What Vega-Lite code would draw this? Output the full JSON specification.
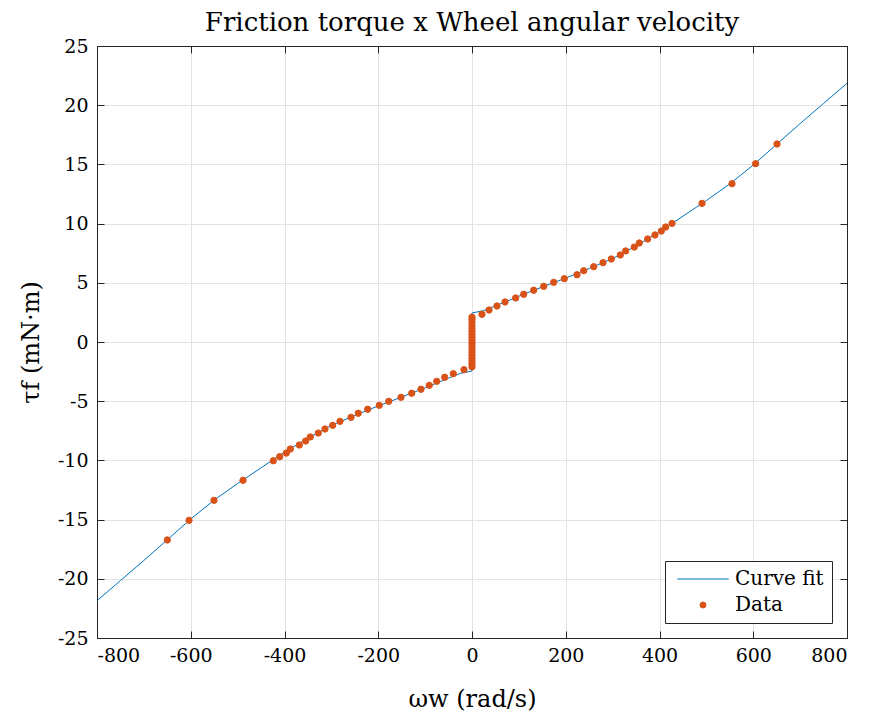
{
  "$schema": "https://vega.github.io/schema/vega-lite/v6.json",
  "width": 750,
  "height": 592,
  "autosize": "none",
  "padding": {"left": 97, "top": 46, "right": 24, "bottom": 77},
  "background": "white",
  "title": {
    "text": "Friction torque x Wheel angular velocity",
    "font": "DejaVu Serif",
    "fontSize": 26,
    "fontWeight": "normal",
    "color": "#000000",
    "anchor": "middle",
    "offset": 1
  },
  "config": {
    "view": {"stroke": null},
    "axis": {
      "labelFont": "DejaVu Serif",
      "labelFontSize": 19,
      "labelColor": "#000000",
      "titleFont": "DejaVu Serif",
      "titleFontSize": 24,
      "titleFontWeight": "normal",
      "titleColor": "#000000",
      "domainColor": "#262626",
      "tickColor": "#262626",
      "gridColor": "#e3e3e3",
      "gridWidth": 1,
      "domainWidth": 1,
      "tickSize": -7
    },
    "legend": {
      "labelFont": "DejaVu Serif",
      "labelFontSize": 20
    }
  },
  "datasets": {
    "fit": [
      {"w": -800, "tau": -21.85, "series": "Curve fit", "i": 0},
      {"w": -750, "tau": -20.15, "series": "Curve fit", "i": 1},
      {"w": -700, "tau": -18.45, "series": "Curve fit", "i": 2},
      {"w": -650, "tau": -16.7, "series": "Curve fit", "i": 3},
      {"w": -600, "tau": -14.95, "series": "Curve fit", "i": 4},
      {"w": -550, "tau": -13.35, "series": "Curve fit", "i": 5},
      {"w": -500, "tau": -11.95, "series": "Curve fit", "i": 6},
      {"w": -450, "tau": -10.63, "series": "Curve fit", "i": 7},
      {"w": -400, "tau": -9.3, "series": "Curve fit", "i": 8},
      {"w": -350, "tau": -8.12, "series": "Curve fit", "i": 9},
      {"w": -300, "tau": -7.05, "series": "Curve fit", "i": 10},
      {"w": -250, "tau": -6.2, "series": "Curve fit", "i": 11},
      {"w": -200, "tau": -5.4, "series": "Curve fit", "i": 12},
      {"w": -150, "tau": -4.65, "series": "Curve fit", "i": 13},
      {"w": -100, "tau": -3.87, "series": "Curve fit", "i": 14},
      {"w": -50, "tau": -3.05, "series": "Curve fit", "i": 15},
      {"w": -25, "tau": -2.65, "series": "Curve fit", "i": 16},
      {"w": 0, "tau": -2.45, "series": "Curve fit", "i": 17},
      {"w": 0, "tau": 2.45, "series": "Curve fit", "i": 18},
      {"w": 25, "tau": 2.65, "series": "Curve fit", "i": 19},
      {"w": 50, "tau": 3.05, "series": "Curve fit", "i": 20},
      {"w": 100, "tau": 3.87, "series": "Curve fit", "i": 21},
      {"w": 150, "tau": 4.65, "series": "Curve fit", "i": 22},
      {"w": 200, "tau": 5.4, "series": "Curve fit", "i": 23},
      {"w": 250, "tau": 6.2, "series": "Curve fit", "i": 24},
      {"w": 300, "tau": 7.05, "series": "Curve fit", "i": 25},
      {"w": 350, "tau": 8.12, "series": "Curve fit", "i": 26},
      {"w": 400, "tau": 9.3, "series": "Curve fit", "i": 27},
      {"w": 450, "tau": 10.63, "series": "Curve fit", "i": 28},
      {"w": 500, "tau": 11.95, "series": "Curve fit", "i": 29},
      {"w": 550, "tau": 13.35, "series": "Curve fit", "i": 30},
      {"w": 600, "tau": 14.95, "series": "Curve fit", "i": 31},
      {"w": 650, "tau": 16.7, "series": "Curve fit", "i": 32},
      {"w": 700, "tau": 18.45, "series": "Curve fit", "i": 33},
      {"w": 750, "tau": 20.15, "series": "Curve fit", "i": 34},
      {"w": 800, "tau": 21.85, "series": "Curve fit", "i": 35}
    ],
    "data": [
      {"w": -650, "tau": -16.72, "series": "Data"},
      {"w": -603.7, "tau": -15.06, "series": "Data"},
      {"w": -550.4, "tau": -13.37, "series": "Data"},
      {"w": -488.5, "tau": -11.68, "series": "Data"},
      {"w": -423.9, "tau": -10.03, "series": "Data"},
      {"w": -410.2, "tau": -9.69, "series": "Data"},
      {"w": -396.2, "tau": -9.38, "series": "Data"},
      {"w": -387.6, "tau": -9.04, "series": "Data"},
      {"w": -368.4, "tau": -8.7, "series": "Data"},
      {"w": -354.8, "tau": -8.36, "series": "Data"},
      {"w": -345, "tau": -8.02, "series": "Data"},
      {"w": -327.9, "tau": -7.69, "series": "Data"},
      {"w": -313.6, "tau": -7.35, "series": "Data"},
      {"w": -297.2, "tau": -7.04, "series": "Data"},
      {"w": -281.6, "tau": -6.7, "series": "Data"},
      {"w": -258.1, "tau": -6.36, "series": "Data"},
      {"w": -242.6, "tau": -6.02, "series": "Data"},
      {"w": -222.5, "tau": -5.68, "series": "Data"},
      {"w": -197.8, "tau": -5.35, "series": "Data"},
      {"w": -177.7, "tau": -5.01, "series": "Data"},
      {"w": -151.5, "tau": -4.67, "series": "Data"},
      {"w": -128.6, "tau": -4.33, "series": "Data"},
      {"w": -108.8, "tau": -3.99, "series": "Data"},
      {"w": -91.1, "tau": -3.66, "series": "Data"},
      {"w": -75.3, "tau": -3.32, "series": "Data"},
      {"w": -58.2, "tau": -2.98, "series": "Data"},
      {"w": -39.9, "tau": -2.68, "series": "Data"},
      {"w": -17.1, "tau": -2.34, "series": "Data"},
      {"w": 0, "tau": -2.1, "series": "Data"},
      {"w": 0, "tau": -1.85, "series": "Data"},
      {"w": 0, "tau": -1.6, "series": "Data"},
      {"w": 0, "tau": -1.35, "series": "Data"},
      {"w": 0, "tau": -1.1, "series": "Data"},
      {"w": 0, "tau": -0.85, "series": "Data"},
      {"w": 0, "tau": -0.6, "series": "Data"},
      {"w": 0, "tau": -0.35, "series": "Data"},
      {"w": 0, "tau": -0.1, "series": "Data"},
      {"w": 0, "tau": 0.15, "series": "Data"},
      {"w": 0, "tau": 0.4, "series": "Data"},
      {"w": 0, "tau": 0.65, "series": "Data"},
      {"w": 0, "tau": 0.9, "series": "Data"},
      {"w": 0, "tau": 1.15, "series": "Data"},
      {"w": 0, "tau": 1.4, "series": "Data"},
      {"w": 0, "tau": 1.65, "series": "Data"},
      {"w": 0, "tau": 1.9, "series": "Data"},
      {"w": 0, "tau": 2.1, "series": "Data"},
      {"w": 21.3, "tau": 2.34, "series": "Data"},
      {"w": 36.3, "tau": 2.7, "series": "Data"},
      {"w": 53.3, "tau": 3.04, "series": "Data"},
      {"w": 70.4, "tau": 3.38, "series": "Data"},
      {"w": 93.2, "tau": 3.72, "series": "Data"},
      {"w": 110.3, "tau": 4.03, "series": "Data"},
      {"w": 131.6, "tau": 4.37, "series": "Data"},
      {"w": 153, "tau": 4.7, "series": "Data"},
      {"w": 174.3, "tau": 5.04, "series": "Data"},
      {"w": 196.9, "tau": 5.35, "series": "Data"},
      {"w": 224, "tau": 5.68, "series": "Data"},
      {"w": 238.3, "tau": 6.02, "series": "Data"},
      {"w": 259.6, "tau": 6.36, "series": "Data"},
      {"w": 279.5, "tau": 6.7, "series": "Data"},
      {"w": 297.2, "tau": 7.01, "series": "Data"},
      {"w": 316.4, "tau": 7.35, "series": "Data"},
      {"w": 327.9, "tau": 7.69, "series": "Data"},
      {"w": 346.2, "tau": 8.02, "series": "Data"},
      {"w": 356.9, "tau": 8.36, "series": "Data"},
      {"w": 374.8, "tau": 8.7, "series": "Data"},
      {"w": 390.4, "tau": 9.04, "series": "Data"},
      {"w": 403.8, "tau": 9.37, "series": "Data"},
      {"w": 413.2, "tau": 9.71, "series": "Data"},
      {"w": 426.7, "tau": 10.02, "series": "Data"},
      {"w": 490.7, "tau": 11.71, "series": "Data"},
      {"w": 554.7, "tau": 13.37, "series": "Data"},
      {"w": 605, "tau": 15.06, "series": "Data"},
      {"w": 650.7, "tau": 16.72, "series": "Data"}
    ]
  },
  "resolve": {"axis": {"x": "independent", "y": "independent"}},
  "layer": [
    {
      "data": {"name": "fit"},
      "mark": {"type": "line", "strokeWidth": 1, "clip": true},
      "encoding": {
        "x": {
          "field": "w", "type": "quantitative",
          "scale": {"domain": [-800, 800], "nice": false, "zero": false},
          "axis": {
            "values": [-800, -600, -400, -200, 0, 200, 400, 600, 800],
            "labelExpr": "'' + datum.value",
            "labelPadding": 15,
            "title": "ωw (rad/s)",
            "titlePadding": 22,
            "grid": true
          }
        },
        "y": {
          "field": "tau", "type": "quantitative",
          "scale": {"domain": [-25, 25], "nice": false, "zero": false},
          "axis": {
            "values": [-25, -20, -15, -10, -5, 0, 5, 10, 15, 20, 25],
            "labelExpr": "'' + datum.value",
            "labelPadding": 16,
            "title": "τf (mN·m)",
            "titlePadding": 14,
            "grid": true
          }
        },
        "order": {"field": "i", "type": "quantitative"},
        "color": {
          "field": "series", "type": "nominal",
          "scale": {"domain": ["Curve fit", "Data"], "range": ["#0072BD", "#D95319"]},
          "legend": {
            "title": null,
            "orient": "bottom-right",
            "offset": 15,
            "fillColor": "white",
            "strokeColor": "#262626",
            "padding": 8,
            "rowPadding": 6,
            "symbolSize": 36,
            "symbolOffset": 20,
            "labelOffset": 22,
            "symbolStrokeWidth": 1
          }
        }
      }
    },
    {
      "data": {"name": "data"},
      "mark": {"type": "point", "filled": false, "size": 40, "strokeWidth": 1, "opacity": 1},
      "encoding": {
        "x": {
          "field": "w", "type": "quantitative",
          "scale": {"domain": [-800, 800], "nice": false, "zero": false},
          "axis": {
            "orient": "top",
            "values": [-800, -600, -400, -200, 0, 200, 400, 600, 800],
            "labels": false, "title": null, "grid": false
          }
        },
        "y": {
          "field": "tau", "type": "quantitative",
          "scale": {"domain": [-25, 25], "nice": false, "zero": false},
          "axis": {
            "orient": "right",
            "values": [-25, -20, -15, -10, -5, 0, 5, 10, 15, 20, 25],
            "labels": false, "title": null, "grid": false
          }
        },
        "color": {
          "field": "series", "type": "nominal",
          "scale": {"domain": ["Curve fit", "Data"], "range": ["#0072BD", "#D95319"]},
          "legend": null
        },
        "fill": {
          "field": "series", "type": "nominal",
          "scale": {"domain": ["Curve fit", "Data"], "range": ["#0072BD", "#D95319"]},
          "legend": null
        },
        "shape": {
          "field": "series", "type": "nominal",
          "scale": {"domain": ["Curve fit", "Data"], "range": ["M-8.6,0H8.6", "circle"]},
          "legend": null
        }
      }
    }
  ]
}
